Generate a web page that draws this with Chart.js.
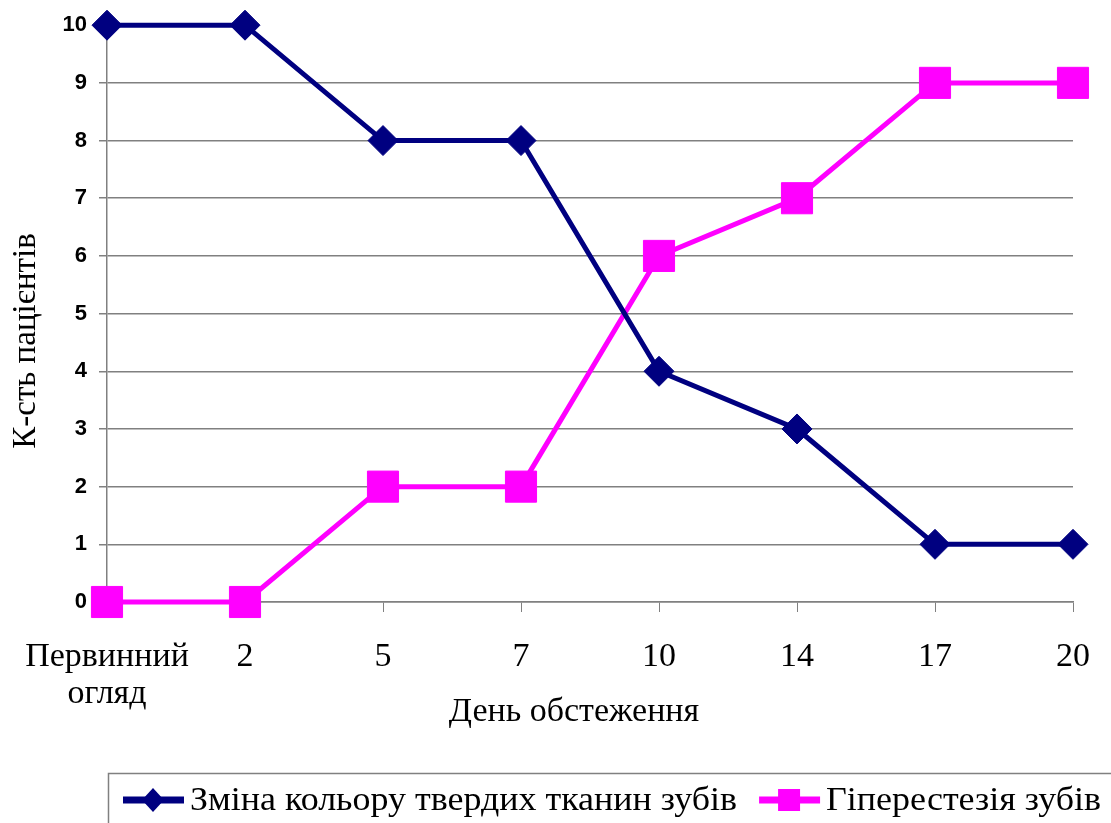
<!DOCTYPE html>
<html>
<head>
<meta charset="utf-8">
<script src="https://cdn.jsdelivr.net/npm/chart.js@4.4.1/dist/chart.umd.min.js"></script>
<style>
  html, body { margin: 0; padding: 0; background: #ffffff; }
  #wrap { width: 1111px; height: 823px; }
</style>
</head>
<body>
<div id="wrap"><canvas id="dayChart" width="1111" height="823"></canvas></div>
<script>
const days = [['Первинний', 'огляд'], '2', '5', '7', '10', '14', '17', '20'];
const colourChange = [10, 10, 8, 8, 4, 3, 1, 1];
const hyperesthesia = [0, 0, 2, 2, 6, 7, 9, 9];
const seriesNames = ['Зміна кольору твердих тканин зубів', 'Гіперестезія зубів'];
const xTitle = 'День обстеження';
const yTitle = 'К-сть пацієнтів';

const serif = "'Liberation Serif', 'Times New Roman', serif";
const sans = "'Liberation Sans', Arial, sans-serif";

// axis titles placed where the original had them
const axisTitles = {
  id: 'axisTitles',
  afterDraw(chart) {
    const ctx = chart.ctx;
    ctx.save();
    ctx.fillStyle = '#000000';
    ctx.font = '34px ' + serif;
    ctx.textAlign = 'center';
    ctx.textBaseline = 'middle';
    ctx.fillText(xTitle, 574, 712);
    ctx.translate(26, 341);
    ctx.rotate(-Math.PI / 2);
    ctx.font = '33px ' + serif;
    ctx.fillText(yTitle, 0, 0);
    ctx.restore();
  }
};

// legend drawn in a framed box under the x axis title
const boxLegend = {
  id: 'boxLegend',
  afterDraw(chart) {
    const ctx = chart.ctx;
    ctx.save();
    ctx.strokeStyle = '#808080';
    ctx.lineWidth = 1.5;
    ctx.strokeRect(108.5, 773.5, 1020, 60);
    ctx.font = '33px ' + serif;
    ctx.textBaseline = 'middle';
    const y = 800;
    const sx = 1.09;
    let x = 123;
    chart.data.datasets.forEach((ds) => {
      ctx.strokeStyle = ds.borderColor;
      ctx.lineWidth = 7;
      ctx.beginPath();
      ctx.moveTo(x, y);
      ctx.lineTo(x + 61, y);
      ctx.stroke();
      ctx.fillStyle = ds.borderColor;
      ctx.beginPath();
      if (ds.pointStyle === 'rectRot') {
        ctx.moveTo(x + 30, y - 12);
        ctx.lineTo(x + 41, y);
        ctx.lineTo(x + 30, y + 12);
        ctx.lineTo(x + 19, y);
      } else {
        ctx.rect(x + 19, y - 11, 22, 22);
      }
      ctx.fill();
      ctx.fillStyle = '#000000';
      ctx.save();
      ctx.translate(x + 67, y + 1);
      ctx.scale(sx, 1);
      ctx.fillText(ds.label, 0, 0);
      ctx.restore();
      x += 67 + ctx.measureText(ds.label).width * sx + 22;
    });
    ctx.restore();
  }
};

new Chart(document.getElementById('dayChart'), {
  type: 'line',
  data: {
    labels: days,
    datasets: [
      {
        label: seriesNames[0],
        data: colourChange,
        borderColor: '#000080',
        backgroundColor: '#000080',
        borderWidth: 5,
        pointStyle: 'rectRot',
        pointRadius: 15,
        pointHoverRadius: 15,
        pointBorderWidth: 1,
        clip: false,
      },
      {
        label: seriesNames[1],
        data: hyperesthesia,
        borderColor: '#FF00FF',
        backgroundColor: '#FF00FF',
        borderWidth: 5,
        pointStyle: 'rect',
        pointRadius: 22,
        pointHoverRadius: 22,
        pointBorderWidth: 1,
        clip: false,
      },
    ],
  },
  options: {
    responsive: false,
    animation: false,
    layout: { padding: { top: 24, right: 38, bottom: 95, left: 0 } },
    plugins: {
      legend: { display: false },
      tooltip: { enabled: false },
    },
    scales: {
      x: {
        offset: false,
        grid: {
          display: true,
          drawOnChartArea: false,
          drawTicks: true,
          tickLength: 10,
          color: '#808080',
        },
        border: { display: true, color: '#808080', width: 1.5 },
        ticks: {
          color: '#000000',
          font: { family: serif, size: 34, lineHeight: 1.1 },
          padding: 26,
          maxRotation: 0,
          autoSkip: false,
        },
        afterFit(scale) {
          scale.height = 126;
          scale.paddingLeft = 0;
          scale.paddingRight = 0;
        },
      },
      y: {
        min: 0,
        max: 10,
        ticks: {
          stepSize: 1,
          color: '#000000',
          font: { family: sans, size: 22, weight: 'bold' },
          padding: 12,
        },
        grid: {
          color: (c) => (c.tick && c.tick.value === 10 ? 'rgba(0,0,0,0)' : '#808080'),
          lineWidth: 1.5,
          tickLength: 8,
        },
        border: { display: true, color: '#808080', width: 1.5 },
        afterFit(scale) { scale.width = 107; },
      },
    },
  },
  plugins: [axisTitles, boxLegend],
});
</script>
</body>
</html>
